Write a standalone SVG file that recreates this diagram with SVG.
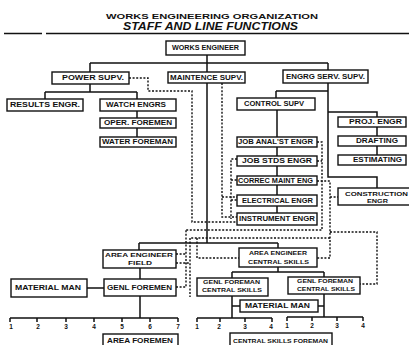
<svg xmlns="http://www.w3.org/2000/svg" width="409" height="345" viewBox="0 0 409 345">
<style>
.b{fill:#fff;stroke:#111;stroke-width:1.4}
.t{font-family:"Liberation Sans",Arial,sans-serif;font-weight:bold;font-size:6.5px;fill:#111}
.s{font-family:"Liberation Sans",Arial,sans-serif;font-weight:bold;font-size:6px;fill:#111}
.c{fill:none;stroke:#111;stroke-width:1.5}
.d{fill:none;stroke:#111;stroke-width:1.4;stroke-dasharray:2 1.6}
</style>
<rect width="409" height="345" fill="#fff"/>
<g id="title">
<text x="106" y="18.5" textLength="212" lengthAdjust="spacingAndGlyphs" style="font-family:'Liberation Sans',Arial,sans-serif;font-weight:bold;font-size:8px;fill:#111">WORKS ENGINEERING ORGANIZATION</text>
<text x="123" y="30" textLength="175" lengthAdjust="spacingAndGlyphs" style="font-family:'Liberation Sans',Arial,sans-serif;font-weight:bold;font-style:italic;font-size:10px;fill:#111">STAFF AND LINE FUNCTIONS</text>
<path d="M4,33.5 H42 M46,33.5 H409" stroke="#111" stroke-width="1.6"/>
</g>
<g id="connectors">
<path class="c" d="M207,55 V243 M90,63 H328 M90,63 V72 M328,63 V70 M328,83 V177 H377 V188 M328,112 H377 V117 M377,127 V136 M377,146 V155 M276,91 H328 M276,91 V98 M277,110 V213 M90,84 V92 M45,92 H137 M45,92 V99 M137,92 V99 M137,111 V137 M139,243 H278 M139,243 V250 M278,243 V248 M140,268 V279 M140,296 V318 M87,288 H104 M278,267 V272 M232,272 H324 M232,272 V278 M324,272 V277 M232,296 V318 M232,306 H240 M324,294 V317 M318,306 H324"/>
<path class="c" d="M10,318 H178 M10,318 V322 M37,318 V322 M66,318 V322 M94,318 V322 M122,318 V322 M150,318 V322 M178,318 V322"/>
<path class="c" d="M197,318 H272 M197,318 V322 M220,318 V322 M245,318 V322 M272,318 V322"/>
<path class="c" d="M287,317 H363 M287,317 V321 M312,317 V321 M337,317 V321 M363,317 V321"/>
<path class="d" d="M129,78 H148 V91 H192 V222 H237"/>
<path class="d" d="M222,83 V217 H237 M222,197 H237"/>
<path class="d" d="M237,159 H231 V219 M231,180 H237 M231,200 H237"/>
<path class="d" d="M317,142 H322 V230 H186 M317,161 H322"/>
<path class="d" d="M317,181 H330 V258 H317 M330,197 H338 M330,232 H377 V284 H360"/>
<path class="d" d="M330,238 H190"/>
<path class="d" d="M176,254 H186 M176,263 H190 M176,287 H186 V230 M190,238 V297 M197,238 V258 H239"/>
</g>
<g id="works-engineer"><rect class="b" x="166" y="41" width="79" height="14"/><text class="t" x="172" y="50.3" textLength="67" lengthAdjust="spacingAndGlyphs">WORKS ENGINEER</text></g>
<g id="power-supv"><rect class="b" x="52" y="72" width="77" height="12"/><text class="t" x="62" y="80.3" textLength="62" lengthAdjust="spacingAndGlyphs">POWER SUPV.</text></g>
<g id="maint-supv"><rect class="b" x="168" y="72" width="77" height="11"/><text class="t" x="170" y="79.8" textLength="73" lengthAdjust="spacingAndGlyphs">MAINTENCE SUPV.</text></g>
<g id="engrg-serv-supv"><rect class="b" x="283" y="70" width="85" height="13"/><text class="t" x="286" y="78.8" textLength="79" lengthAdjust="spacingAndGlyphs">ENGRG SERV. SUPV.</text></g>
<g id="results-engr"><rect class="b" x="7" y="99" width="76" height="12"/><text class="t" x="10" y="107.3" textLength="70" lengthAdjust="spacingAndGlyphs">RESULTS ENGR.</text></g>
<g id="watch-engrs"><rect class="b" x="100" y="99" width="76" height="12"/><text class="t" x="106" y="107.3" textLength="60" lengthAdjust="spacingAndGlyphs">WATCH ENGRS</text></g>
<g id="oper-foremen"><rect class="b" x="100" y="118" width="76" height="10"/><text class="t" x="104" y="125.3" textLength="68" lengthAdjust="spacingAndGlyphs">OPER. FOREMEN</text></g>
<g id="water-foreman"><rect class="b" x="100" y="137" width="76" height="10"/><text class="t" x="102" y="144.3" textLength="71" lengthAdjust="spacingAndGlyphs">WATER FOREMAN</text></g>
<g id="control-supv"><rect class="b" x="237" y="98" width="78" height="12"/><text class="t" x="244" y="106.3" textLength="60" lengthAdjust="spacingAndGlyphs">CONTROL SUPV</text></g>
<g id="proj-engr"><rect class="b" x="338" y="117" width="68" height="10"/><text class="t" x="349" y="124.3" textLength="53" lengthAdjust="spacingAndGlyphs">PROJ. ENGR</text></g>
<g id="drafting"><rect class="b" x="338" y="136" width="68" height="10"/><text class="t" x="356" y="143.3" textLength="42" lengthAdjust="spacingAndGlyphs">DRAFTING</text></g>
<g id="estimating"><rect class="b" x="338" y="155" width="68" height="10"/><text class="t" x="353" y="162.3" textLength="49" lengthAdjust="spacingAndGlyphs">ESTIMATING</text></g>
<g id="construction-engr"><rect class="b" x="338" y="188" width="74" height="17"/><text class="s" x="345" y="195.5" textLength="63" lengthAdjust="spacingAndGlyphs">CONSTRUCTION</text><text class="s" x="367" y="202.6" textLength="21" lengthAdjust="spacingAndGlyphs">ENGR</text></g>
<g id="job-analst-engr"><rect class="b" x="237" y="137" width="80" height="10"/><text class="t" x="238" y="144.3" textLength="75" lengthAdjust="spacingAndGlyphs">JOB ANAL'ST ENGR</text></g>
<g id="job-stds-engr"><rect class="b" x="237" y="156" width="80" height="10"/><text class="t" x="242" y="163.3" textLength="70" lengthAdjust="spacingAndGlyphs">JOB STDS ENGR</text></g>
<g id="correc-maint-eng"><rect class="b" x="237" y="176" width="80" height="9"/><text class="t" x="238" y="182.8" textLength="75" lengthAdjust="spacingAndGlyphs">CORREC MAINT ENG</text></g>
<g id="electrical-engr"><rect class="b" x="237" y="195" width="80" height="11"/><text class="t" x="242" y="202.8" textLength="71" lengthAdjust="spacingAndGlyphs">ELECTRICAL ENGR</text></g>
<g id="instrument-engr"><rect class="b" x="237" y="213" width="80" height="12"/><text class="t" x="239" y="221.3" textLength="76" lengthAdjust="spacingAndGlyphs">INSTRUMENT ENGR</text></g>
<g id="area-engineer-field"><rect class="b" x="103" y="250" width="73" height="18"/><text class="s" x="105" y="256.6" textLength="68" lengthAdjust="spacingAndGlyphs">AREA ENGINEER</text><text class="s" x="128" y="265.2" textLength="24" lengthAdjust="spacingAndGlyphs">FIELD</text></g>
<g id="genl-foremen"><rect class="b" x="104" y="279" width="72" height="17"/><text class="t" x="107" y="289.8" textLength="65" lengthAdjust="spacingAndGlyphs">GENL FOREMEN</text></g>
<g id="material-man-field"><rect class="b" x="11" y="279" width="76" height="18"/><text class="t" x="15" y="290.3" textLength="66" lengthAdjust="spacingAndGlyphs">MATERIAL MAN</text></g>
<g id="area-engineer-central"><rect class="b" x="239" y="248" width="78" height="19"/><text class="s" x="249" y="255.2" textLength="58" lengthAdjust="spacingAndGlyphs">AREA ENGINEER</text><text class="s" x="248" y="263.7" textLength="61" lengthAdjust="spacingAndGlyphs">CENTRAL SKILLS</text></g>
<g id="genl-foreman-cs-1"><rect class="b" x="197" y="278" width="71" height="18"/><text class="s" x="203" y="284.2" textLength="57" lengthAdjust="spacingAndGlyphs">GENL FOREMAN</text><text class="s" x="202" y="292.2" textLength="60" lengthAdjust="spacingAndGlyphs">CENTRAL SKILLS</text></g>
<g id="genl-foreman-cs-2"><rect class="b" x="288" y="277" width="72" height="17"/><text class="s" x="297" y="283.2" textLength="56" lengthAdjust="spacingAndGlyphs">GENL FOREMAN</text><text class="s" x="297" y="291.2" textLength="58" lengthAdjust="spacingAndGlyphs">CENTRAL SKILLS</text></g>
<g id="material-man-central"><rect class="b" x="240" y="300" width="78" height="12"/><text class="t" x="245" y="308.3" textLength="65" lengthAdjust="spacingAndGlyphs">MATERIAL MAN</text></g>
<g id="area-foremen"><rect class="b" x="103" y="334" width="75" height="14"/><text class="t" x="107" y="343.3" textLength="66" lengthAdjust="spacingAndGlyphs">AREA FOREMEN</text></g>
<g id="central-skills-foreman"><rect class="b" x="230" y="333" width="102" height="15"/><text class="s" x="233" y="343" textLength="95" lengthAdjust="spacingAndGlyphs">CENTRAL SKILLS FOREMAN</text></g>
<g id="scale-labels" class="s" text-anchor="middle" style="font-size:6.5px">
<text x="11" y="329">1</text><text x="38" y="329">2</text><text x="66" y="329">3</text><text x="94" y="329">4</text><text x="122" y="329">5</text><text x="150" y="329">6</text><text x="178" y="329">7</text>
<text x="197" y="329">1</text><text x="219" y="329">2</text><text x="245" y="329">3</text><text x="271" y="329">4</text>
<text x="287" y="328">1</text><text x="312" y="328">2</text><text x="337" y="328">3</text><text x="363" y="328">4</text>
</g>
</svg>
